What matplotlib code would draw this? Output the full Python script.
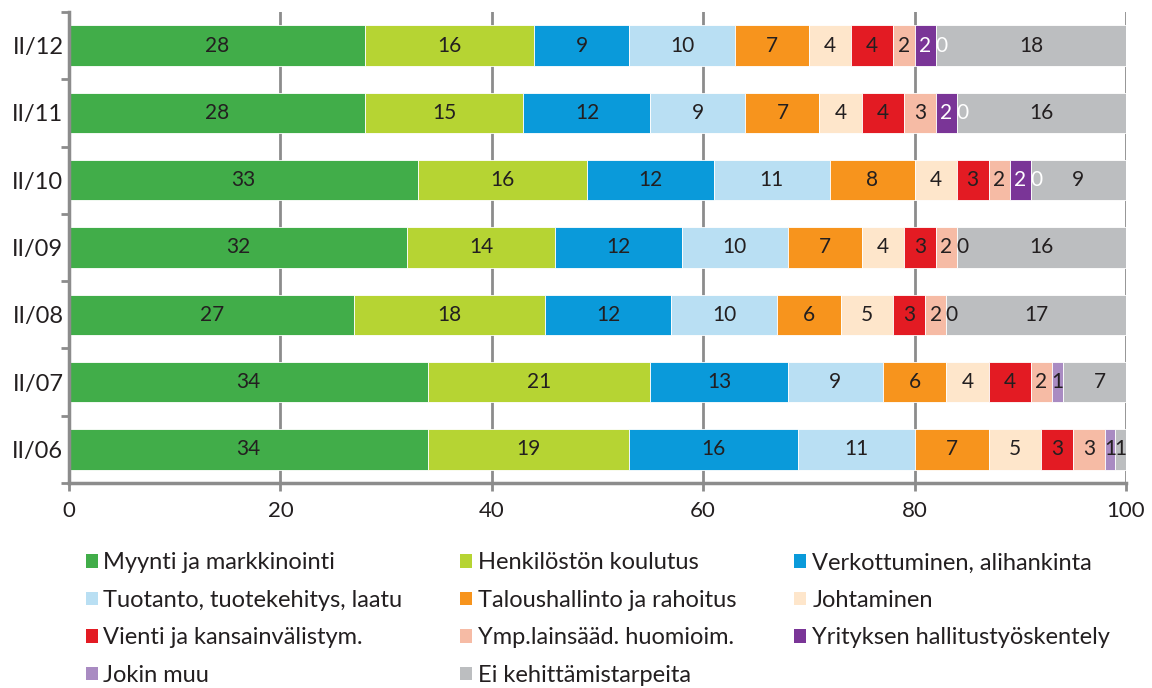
import matplotlib.pyplot as plt
from matplotlib.patches import Patch

plt.rcParams['font.family'] = ['Lato', 'DejaVu Sans']

periods = ['II/12', 'II/11', 'II/10', 'II/09', 'II/08', 'II/07', 'II/06']
series = [
    'Myynti ja markkinointi', 'Henkilöstön koulutus', 'Verkottuminen, alihankinta',
    'Tuotanto, tuotekehitys, laatu', 'Taloushallinto ja rahoitus',
    'Johtaminen', 'Vienti ja kansainvälistym.', 'Ymp.lainsääd. huomioim.',
    'Yrityksen hallitustyöskentely', 'Jokin muu', 'Ei kehittämistarpeita',
]

# values per period, in series order
values = {
    'II/12': [28, 16, 9, 10, 7, 4, 4, 2, 2, 0, 18],
    'II/11': [28, 15, 12, 9, 7, 4, 4, 3, 2, 0, 16],
    'II/10': [33, 16, 12, 11, 8, 4, 3, 2, 2, 0, 9],
    'II/09': [32, 14, 12, 10, 7, 4, 3, 2, 0, 0, 16],
    'II/08': [27, 18, 12, 10, 6, 5, 3, 2, 0, 0, 17],
    'II/07': [34, 21, 13, 9, 6, 4, 4, 2, 0, 1, 7],
    'II/06': [34, 19, 16, 11, 7, 5, 3, 3, 0, 1, 1],
}
# zero values that still carry a "0" label in the source: (period, series index)
zero_labels = [('II/12', 9), ('II/11', 9), ('II/10', 9), ('II/09', 8), ('II/08', 8)]

colors = ['#41AD49', '#B6D433', '#0A9ADA', '#B9DFF3', '#F7941D', '#FEE6CB',
          '#E31B23', '#F6BBA5', '#7A3597', '#A98BC2', '#BCBEC0']
txt_dark = '#231F20'
axis_gray = '#8C8C8C'

fig = plt.figure(figsize=(11.52, 6.88), dpi=100)
ax = fig.add_axes([0.0599, 0.298, 0.9175, 0.6846])

n = len(periods)
for i, p in enumerate(periods):
    y = n - 1 - i
    left = 0
    for j, v in enumerate(values[p]):
        if v > 0:
            ax.barh(y, v, left=left, height=0.6, color=colors[j], edgecolor='white',
                    linewidth=0.6, zorder=2)
            tc = 'white' if j == 8 else txt_dark
            ax.text(left + v / 2, y, str(v), ha='center', va='center',
                    fontsize=15, color=tc, zorder=3)
        left += v
    for (zp, zj) in zero_labels:
        if zp == p:
            x0 = sum(values[p][:zj])
            tc = 'white' if values[p][8] > 0 else txt_dark
            ax.text(x0 + 0.5, y, '0', ha='center', va='center', fontsize=15,
                    color=tc, zorder=3)

ax.set_xlim(0, 100)
ax.set_ylim(-0.5, n - 0.5)
ax.set_yticks(range(n))
ax.set_yticklabels(periods[::-1], fontsize=17, color=txt_dark)
ax.set_yticks([k - 0.5 for k in range(n + 1)], minor=True)
ax.tick_params(axis='y', which='major', length=0, pad=4)
ax.tick_params(axis='y', which='minor', length=6, width=2, color=axis_gray)
ax.set_xticks([0, 20, 40, 60, 80, 100])
ax.tick_params(axis='x', length=6, width=2, color=axis_gray, labelsize=16,
               labelcolor=txt_dark, pad=7)

ax.grid(axis='x', color=axis_gray, linewidth=2, zorder=0)
ax.set_axisbelow(True)
for s in ['top', 'right']:
    ax.spines[s].set_visible(False)
for s in ['left', 'bottom']:
    ax.spines[s].set_color(axis_gray)
    ax.spines[s].set_linewidth(2.5)

# legend, row-major order across 3 columns
order = [0, 3, 6, 9, 1, 4, 7, 10, 2, 5, 8]
handles = [Patch(facecolor=colors[k], edgecolor='none', label=series[k]) for k in order]
fig.legend(handles=handles, loc='upper left', bbox_to_anchor=(0.056, 0.228), ncol=3,
           frameon=False, fontsize=17, handlelength=0.5, handleheight=0.5,
           handletextpad=0.25, columnspacing=2.45, labelspacing=0.7,
           labelcolor=txt_dark)

fig.savefig('out.png', dpi=100)
